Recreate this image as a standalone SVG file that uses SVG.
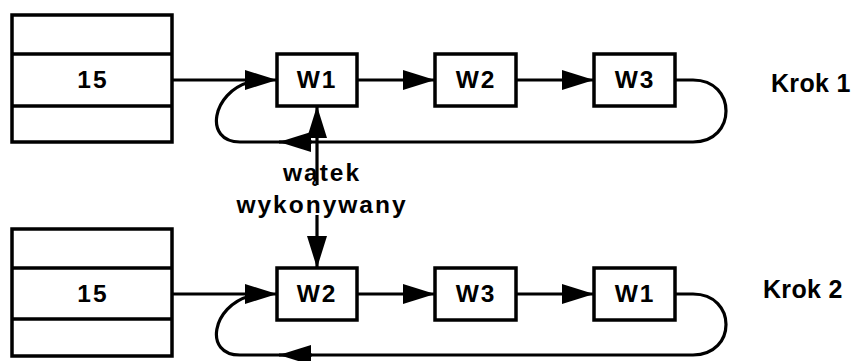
<svg xmlns="http://www.w3.org/2000/svg" width="857" height="361" viewBox="0 0 857 361">
<style>
.box{fill:#fff;stroke:#000;stroke-width:3.5}
.ln{fill:none;stroke:#000;stroke-width:3.2}
.lbl{font-family:"Liberation Sans",Arial,sans-serif;font-weight:bold;font-size:24.5px;fill:#000;text-anchor:middle;letter-spacing:2px}
.step{font-family:"Liberation Sans",Arial,sans-serif;font-weight:bold;font-size:25px;fill:#000;letter-spacing:0.3px}
</style>
<defs>
<marker id="ah" markerUnits="userSpaceOnUse" markerWidth="33" markerHeight="21" refX="32" refY="10" orient="auto">
<path d="M0,0 L32,10 L0,20 z" fill="#000"/>
</marker>
</defs>
<g id="connectors">
<path class="ln" d="M172,80 H277" marker-end="url(#ah)"/>
<path class="ln" d="M357,80 H435" marker-end="url(#ah)"/>
<path class="ln" d="M516,80 H594" marker-end="url(#ah)"/>
<path class="ln" d="M675,80 H693 C737,80 737,142 693,142 H240 C203,142 212,92 250,82"/>
<path class="ln" d="M312,142 H279" marker-end="url(#ah)"/>
<path class="ln" d="M317,185 V106" marker-end="url(#ah)"/>
<path class="ln" d="M317,215 V268" marker-end="url(#ah)"/>
<path class="ln" d="M172,294 H277" marker-end="url(#ah)"/>
<path class="ln" d="M357,294 H435" marker-end="url(#ah)"/>
<path class="ln" d="M516,294 H594" marker-end="url(#ah)"/>
<path class="ln" d="M675,294 H693 C737,294 737,355 693,355 H240 C203,355 212,306 250,296"/>
<path class="ln" d="M312,355 H279" marker-end="url(#ah)"/>
</g>
<g id="queue1">
<rect class="box" x="12" y="15" width="160" height="127"/>
<line class="box" x1="12" y1="54" x2="172" y2="54"/>
<line class="box" x1="12" y1="106" x2="172" y2="106"/>
<text class="lbl" x="93" y="88">15</text>
</g>
<g id="r1w1"><rect class="box" x="277" y="54" width="80" height="52"/><text class="lbl" x="317" y="88">W1</text></g>
<g id="r1w2"><rect class="box" x="435" y="54" width="81" height="52"/><text class="lbl" x="476" y="88">W2</text></g>
<g id="r1w3"><rect class="box" x="594" y="54" width="81" height="52"/><text class="lbl" x="635" y="88">W3</text></g>
<g id="krok1"><text class="step" x="771" y="92">Krok 1</text></g>
<g id="label"><text class="lbl" x="322" y="181">wątek</text><text class="lbl" x="322" y="213">wykonywany</text></g>
<g id="queue2">
<rect class="box" x="12" y="229" width="160" height="127"/>
<line class="box" x1="12" y1="268" x2="172" y2="268"/>
<line class="box" x1="12" y1="319" x2="172" y2="319"/>
<text class="lbl" x="93" y="302">15</text>
</g>
<g id="r2w2"><rect class="box" x="277" y="268" width="80" height="52"/><text class="lbl" x="317" y="302">W2</text></g>
<g id="r2w3"><rect class="box" x="435" y="268" width="81" height="52"/><text class="lbl" x="476" y="302">W3</text></g>
<g id="r2w1"><rect class="box" x="594" y="268" width="81" height="52"/><text class="lbl" x="635" y="302">W1</text></g>
<g id="krok2"><text class="step" x="763" y="298">Krok 2</text></g>
</svg>
